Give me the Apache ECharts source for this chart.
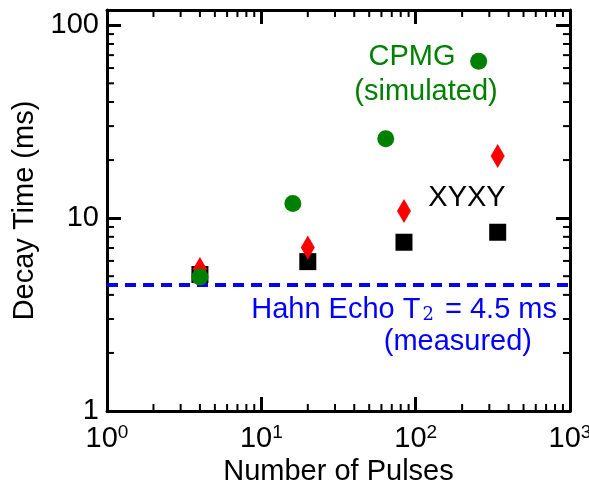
<!DOCTYPE html>
<html lang="en">
<head>
    <meta charset="UTF-8">
    <title>Decay Time vs Number of Pulses</title>
</head>
<body style="margin:0;background:#fff">
<div id="chart" style="width:589px;height:481px"></div>
<script src="https://cdn.jsdelivr.net/npm/echarts@6/dist/echarts.min.js"></script>
<script>
    // XYXY (black squares) and its red diamond companion
    var xyxyPulses = [4, 20, 84, 340];
    var xyxySquares = [5.1, 5.95, 7.5, 8.45];
    var xyxyDiamonds = [5.45, 7.05, 10.9, 21];
    // CPMG simulated (green circles)
    var cpmgPulses = [4, 16, 64, 256];
    var cpmgTimes = [4.95, 11.9, 25.8, 65];
    // Hahn echo measured T2
    var hahnT2 = 4.5;
    var xRange = [1, 1000];
    var yRange = [1, 120];
    var xMinor = [2, 3, 4, 5, 6, 7, 8, 9, 20, 30, 40, 50, 60, 70, 80, 90, 200, 300, 400, 500, 600, 700, 800, 900];
    var yMinor = [2, 3, 4, 5, 6, 7, 8, 9, 20, 30, 40, 50, 60, 70, 80, 90];

    var font = '"Liberation Sans", Arial, sans-serif';
    var _chart = echarts.init(document.getElementById('chart'));

    function pairs(xs, ys) {
        return xs.map(function (x, i) { return [x, ys[i]]; });
    }

    // minor ticks drawn on all four edges, positioned by the axis scales
    function minorTicks(params, api) {
        var cs = params.coordSys;
        var p = api.coord([api.value(0), api.value(1)]);
        var len = 7;
        var st = {stroke: '#000', lineWidth: 2};
        var kids;
        if (api.value(2) === 0) {
            kids = [
                {type: 'line', shape: {x1: p[0], y1: cs.y + cs.height, x2: p[0], y2: cs.y + cs.height - len}, style: st},
                {type: 'line', shape: {x1: p[0], y1: cs.y, x2: p[0], y2: cs.y + len}, style: st}
            ];
        } else {
            kids = [
                {type: 'line', shape: {x1: cs.x, y1: p[1], x2: cs.x + len, y2: p[1]}, style: st},
                {type: 'line', shape: {x1: cs.x + cs.width, y1: p[1], x2: cs.x + cs.width - len, y2: p[1]}, style: st}
            ];
        }
        return {type: 'group', children: kids};
    }

    var axisCommon = {
        type: 'log',
        logBase: 10,
        axisLine: {lineStyle: {color: '#000', width: 3}},
        axisTick: {inside: true, length: 14, lineStyle: {color: '#000', width: 3}},
        splitLine: {show: false}
    };

    var option = {
        animation: false,
        grid: {left: 107, right: 19, top: 10, bottom: 70, outerBoundsMode: 'none', containLabel: false},
        xAxis: [
            Object.assign({}, axisCommon, {
                position: 'bottom', min: xRange[0], max: xRange[1],
                name: 'Number of Pulses', nameLocation: 'middle', nameGap: 37,
                nameTextStyle: {fontFamily: font, fontSize: 29, color: '#000'},
                axisLabel: {
                    margin: 12,
                    formatter: function (v) {
                        return '10{sup|' + Math.round(Math.log10(v)) + '}';
                    },
                    fontFamily: font, fontSize: 29, color: '#000',
                    rich: {sup: {fontFamily: font, fontSize: 19, color: '#000', verticalAlign: 'top', padding: [0, 0, 12, 0]}}
                }
            }),
            Object.assign({}, axisCommon, {
                position: 'top', min: xRange[0], max: xRange[1],
                axisLabel: {show: false}
            })
        ],
        yAxis: [
            Object.assign({}, axisCommon, {
                position: 'left', min: yRange[0], max: yRange[1],
                name: 'Decay Time (ms)', nameLocation: 'middle', nameGap: 59,
                nameTextStyle: {fontFamily: font, fontSize: 29, color: '#000'},
                axisLabel: {margin: 8, showMaxLabel: false, fontFamily: font, fontSize: 29, color: '#000'}
            }),
            Object.assign({}, axisCommon, {
                position: 'right', min: yRange[0], max: yRange[1],
                axisLabel: {show: false}
            })
        ],
        graphic: [
            {type: 'text', x: 412, y: 57, style: {text: 'CPMG', fill: '#008000', font: '29px ' + font, align: 'center', verticalAlign: 'middle'}},
            {type: 'text', x: 426, y: 92, style: {text: '(simulated)', fill: '#008000', font: '29px ' + font, align: 'center', verticalAlign: 'middle'}},
            {type: 'text', x: 467, y: 198, style: {text: 'XYXY', fill: '#000', font: '29px ' + font, align: 'center', verticalAlign: 'middle'}},
            {type: 'text', x: 557, y: 310, style: {
                text: '{t|Hahn Echo T}{s|2}{t| = 4.5 ms}', align: 'right', verticalAlign: 'middle',
                rich: {
                    t: {fill: '#0000ff', fontFamily: font, fontSize: 29},
                    s: {fill: '#0000ff', fontFamily: '"DejaVu Serif", serif', fontSize: 18, padding: [10, 3, 0, 2]}
                }
            }},
            {type: 'text', x: 532, y: 342, style: {text: '(measured)', fill: '#0000ff', font: '29px ' + font, align: 'right', verticalAlign: 'middle'}}
        ],
        series: [
            {
                type: 'custom', renderItem: minorTicks, clip: false, silent: true, z: 5,
                data: xMinor.map(function (x) { return [x, 1, 0]; })
                    .concat(yMinor.map(function (y) { return [1, y, 1]; }))
            },
            {
                type: 'line', data: [[xRange[0], hahnT2], [xRange[1], hahnT2]],
                symbol: 'none', silent: true, z: 1,
                lineStyle: {color: '#0000ff', width: 4, type: [11, 7]}
            },
            {
                name: 'XYXY', type: 'scatter', symbol: 'rect', symbolSize: 17, z: 2,
                itemStyle: {color: '#000', opacity: 1},
                data: pairs(xyxyPulses, xyxySquares)
            },
            {
                name: 'XYXY diamonds', type: 'scatter', symbol: 'diamond', symbolSize: [14, 24], z: 3,
                itemStyle: {color: '#ff0000', opacity: 1},
                data: pairs(xyxyPulses, xyxyDiamonds)
            },
            {
                name: 'CPMG', type: 'scatter', symbol: 'circle', symbolSize: 17, z: 4,
                itemStyle: {color: '#008000', opacity: 1},
                data: pairs(cpmgPulses, cpmgTimes)
            }
        ]
    };
    _chart.setOption(option, true);
</script>
</body>
</html>
